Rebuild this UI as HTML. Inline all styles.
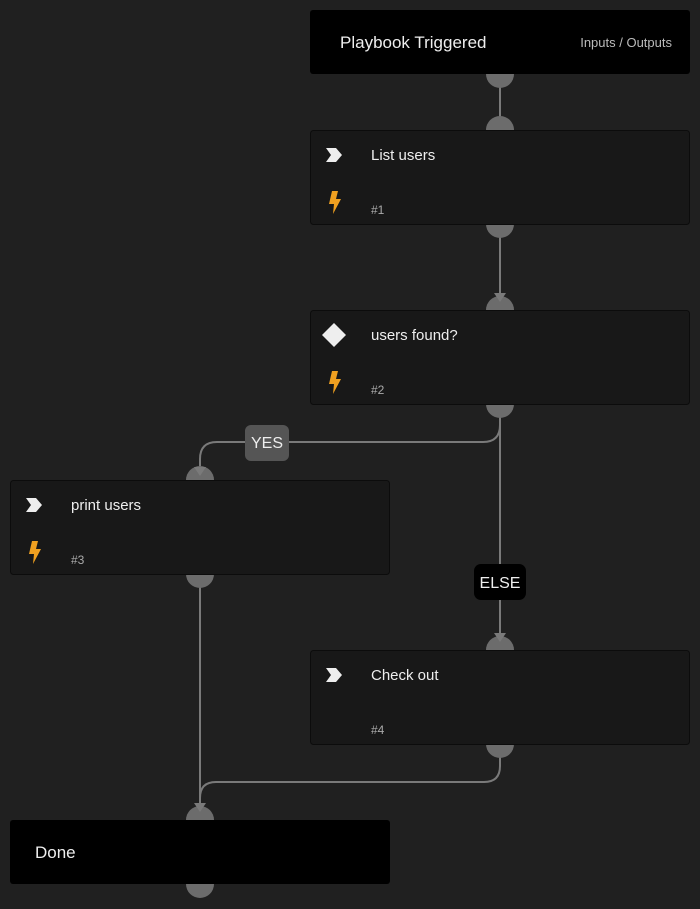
<!DOCTYPE html>
<html><head><style>
body{margin:0;background:#202020;font-family:"Liberation Sans",sans-serif;}
svg{display:block}
</style></head><body>
<svg width="700" height="909" viewBox="0 0 700 909" xmlns="http://www.w3.org/2000/svg" font-family="Liberation Sans, sans-serif">
<rect width="700" height="909" fill="#202020"/>
<g stroke="#7a7a7a" stroke-width="2" fill="none">
<path d="M500 74 V130"/>
<path d="M500 224 V300"/>
<path d="M500 404 V425 Q500 442 483 442 H217 Q200 442 200 459 V475"/>
<path d="M500 404 V640"/>
<path d="M200 574 V810"/>
<path d="M500 744 V766 Q500 782 484 782 H216 Q200 782 200 798 V810"/>
</g>
<g fill="#6c6c6c">
<circle cx="500" cy="74" r="14"/><circle cx="500" cy="130" r="14"/>
<circle cx="500" cy="224" r="14"/><circle cx="500" cy="310" r="14"/>
<circle cx="500" cy="404" r="14"/><circle cx="200" cy="480" r="14"/>
<circle cx="200" cy="574" r="14"/><circle cx="500" cy="650" r="14"/>
<circle cx="500" cy="744" r="14"/><circle cx="200" cy="820" r="14"/>
<circle cx="200" cy="884" r="14"/>
</g>
<g fill="#7a7a7a">
<path d="M494 293 L506 293 L500 302 Z"/>
<path d="M194 467 L206 467 L200 476 Z"/>
<path d="M494 633 L506 633 L500 642 Z"/>
<path d="M194 803 L206 803 L200 812 Z"/>
</g>
<rect x="310" y="10" width="380" height="64" rx="3" fill="#000"/>
<text x="340" y="48" fill="#eee" font-size="17">Playbook Triggered</text>
<text x="672" y="47" fill="#bbb" font-size="13" text-anchor="end">Inputs / Outputs</text>
<g stroke="#0c0c0c" fill="#181818">
<rect x="310.5" y="130.5" width="379" height="94" rx="3"/>
<rect x="310.5" y="310.5" width="379" height="94" rx="3"/>
<rect x="10.5" y="480.5" width="379" height="94" rx="3"/>
<rect x="310.5" y="650.5" width="379" height="94" rx="3"/>
</g>
<rect x="10" y="820" width="380" height="64" rx="3" fill="#000"/>
<text x="35" y="858" fill="#eee" font-size="17">Done</text>
<g fill="#eee">
<path d="M326 148 L336 148 L342 155 L336 162 L326 162 L331 155 Z"/>
<path d="M334 323 L346 335 L334 347 L322 335 Z"/>
<path d="M26 498 L36 498 L42 505 L36 512 L26 512 L31 505 Z"/>
<path d="M326 668 L336 668 L342 675 L336 682 L326 682 L331 675 Z"/>
</g>
<g fill="#f0a020">
<path d="M332 191 L338 191 L336 199 L341 199 L333 214 L334 204 L329 204 Z"/>
<path d="M332 371 L338 371 L336 379 L341 379 L333 394 L334 384 L329 384 Z"/>
<path d="M32 541 L38 541 L36 549 L41 549 L33 564 L34 554 L29 554 Z"/>
</g>
<g fill="#eee" font-size="15">
<text x="371" y="160">List users</text>
<text x="371" y="340">users found?</text>
<text x="71" y="510">print users</text>
<text x="371" y="680">Check out</text>
</g>
<g fill="#aaa" font-size="12">
<text x="371" y="214">#1</text><text x="371" y="394">#2</text>
<text x="71" y="564">#3</text><text x="371" y="734">#4</text>
</g>
<rect x="245" y="425" width="44" height="36" rx="6" fill="#555"/>
<text x="267" y="448" fill="#eee" font-size="16" text-anchor="middle">YES</text>
<rect x="474" y="564" width="52" height="36" rx="7" fill="#000"/>
<text x="500" y="588" fill="#eee" font-size="16" text-anchor="middle">ELSE</text>
</svg>
</body></html>
